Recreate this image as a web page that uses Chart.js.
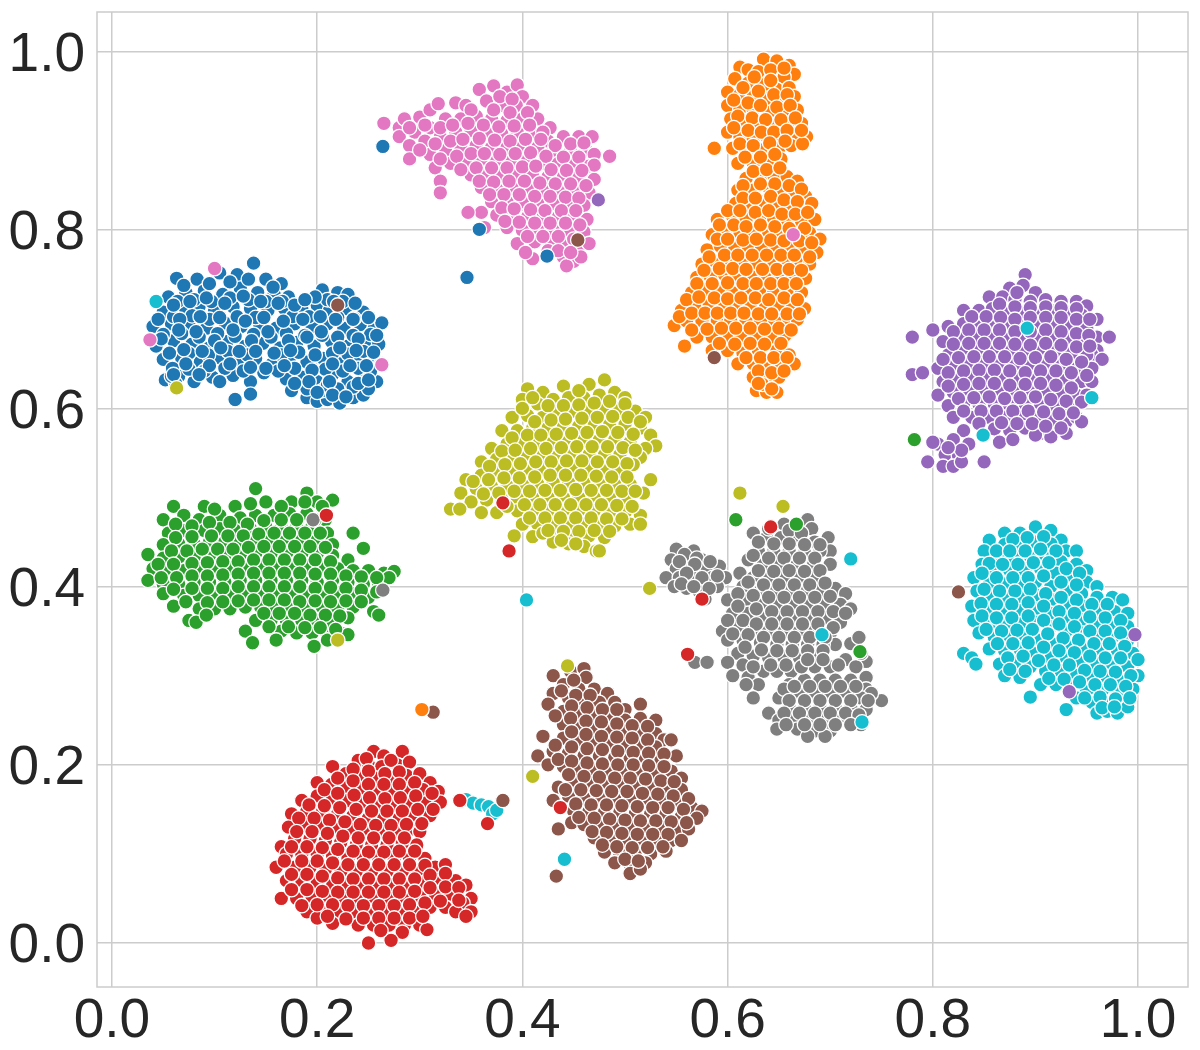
<!DOCTYPE html>
<html>
<head>
<meta charset="utf-8">
<script src="https://cdn.jsdelivr.net/npm/chart.js@4"></script>
<style>
body { margin: 0; background: #fff; }
</style>
</head>
<body>
<canvas id="myChart" width="1200" height="1050"></canvas>
<script>
const tickVals = [0, 0.2, 0.4, 0.6, 0.8, 1.0]

// points, one list per cluster
const blue = [[.063,.746],[.083,.745],[.105,.752],[.122,.75],[.138,.763],[.15,.745],[.165,.74],[.055,.725],[.072,.73],[.09,.732],[.108,.728],[.125,.735],[.142,.73],[.158,.728],[.172,.725],[.205,.733],[.22,.73],[.23,.728],[.05,.708],[.068,.712],[.085,.715],[.1,.71],[.118,.714],[.135,.712],[.152,.71],[.168,.712],[.185,.712],[.2,.716],[.212,.71],[.228,.712],[.245,.708],[.04,.692],[.058,.695],[.075,.694],[.092,.69],[.11,.696],[.126,.692],[.144,.694],[.16,.69],[.178,.695],[.195,.692],[.21,.695],[.226,.69],[.242,.694],[.256,.692],[.263,.696],[.043,.67],[.06,.676],[.078,.672],[.095,.668],[.112,.675],[.13,.67],[.147,.673],[.164,.668],[.18,.674],[.197,.67],[.214,.675],[.23,.67],[.247,.674],[.26,.672],[.05,.655],[.068,.656],[.086,.652],[.104,.657],[.122,.652],[.14,.656],[.156,.65],[.173,.656],[.19,.652],[.206,.656],[.222,.65],[.238,.654],[.254,.656],[.262,.65],[.052,.632],[.065,.636],[.08,.63],[.098,.635],[.118,.637],[.135,.63],[.148,.64],[.17,.633],[.185,.635],[.2,.63],[.215,.638],[.23,.63],[.245,.635],[.258,.63],[.12,.61],[.135,.616],[.175,.62],[.19,.612],[.2,.608],[.21,.61],[.222,.606],[.235,.612],[.245,.615],[.062,.628],[.058,.636],[.064,.72],[.08,.722],[.097,.72],[.115,.724],[.133,.722],[.15,.72],[.166,.72],[.21,.722],[.225,.72],[.06,.703],[.078,.704],[.095,.7],[.122,.703],[.14,.702],[.176,.703],[.192,.703],[.22,.702],[.236,.701],[.05,.683],[.068,.684],[.085,.68],[.103,.684],[.12,.681],[.138,.683],[.155,.68],[.17,.684],[.188,.682],[.205,.682],[.235,.682],[.252,.683],[.075,.662],[.094,.66],[.113,.664],[.132,.66],[.165,.66],[.182,.663],[.215,.662],[.23,.661],[.245,.664],[.075,.644],[.09,.642],[.11,.645],[.128,.642],[.162,.642],[.178,.645],[.208,.644],[.225,.642],[.24,.645],[.252,.642],[.19,.622],[.205,.62],[.22,.622],[.235,.624],[.25,.622],[.21,.626],[.07,.738],[.095,.74],[.115,.742],[.133,.745],[.157,.736],[.06,.716],[.076,.72],[.092,.724],[.11,.718],[.128,.726],[.145,.72],[.162,.718],[.178,.716],[.198,.725],[.216,.72],[.237,.718],[.045,.7],[.066,.7],[.086,.703],[.105,.702],[.13,.698],[.148,.702],[.167,.698],[.186,.7],[.203,.703],[.218,.7],[.235,.7],[.25,.702],[.048,.678],[.065,.688],[.082,.686],[.1,.676],[.118,.688],[.136,.676],[.152,.686],[.172,.676],[.19,.68],[.204,.686],[.22,.68],[.24,.678],[.258,.682],[.056,.662],[.07,.666],[.088,.664],[.106,.668],[.124,.664],[.14,.664],[.158,.662],[.174,.665],[.198,.66],[.222,.668],[.238,.665],[.255,.663],[.059,.645],[.072,.65],[.095,.648],[.115,.65],[.135,.646],[.15,.645],[.168,.648],[.195,.643],[.215,.65],[.232,.648],[.248,.648],[.06,.638],[.085,.638],[.105,.63],[.178,.628],[.192,.63],[.212,.63],[.24,.628],[.25,.632],[.2,.618],[.215,.615],[.228,.613],[.188,.722]]

const orange = [[.635,.992],[.648,.99],[.66,.985],[.665,.975],[.612,.983],[.62,.98],[.63,.978],[.655,.972],[.607,.97],[.62,.965],[.635,.963],[.648,.958],[.66,.96],[.6,.955],[.612,.952],[.625,.95],[.638,.948],[.652,.945],[.665,.95],[.6,.94],[.612,.936],[.625,.935],[.64,.932],[.655,.93],[.668,.935],[.603,.925],[.617,.92],[.63,.918],[.645,.917],[.66,.92],[.672,.92],[.6,.91],[.612,.905],[.625,.902],[.638,.905],[.652,.905],[.665,.908],[.677,.905],[.605,.892],[.618,.888],[.632,.89],[.65,.892],[.662,.895],[.673,.897],[.61,.875],[.625,.875],[.64,.875],[.652,.88],[.618,.858],[.632,.86],[.645,.862],[.658,.86],[.668,.855],[.61,.845],[.625,.845],[.64,.848],[.652,.843],[.665,.84],[.676,.838],[.608,.83],[.62,.828],[.633,.832],[.648,.828],[.66,.825],[.672,.825],[.682,.83],[.59,.812],[.605,.815],[.618,.812],[.632,.815],[.645,.812],[.658,.81],[.672,.81],[.685,.812],[.585,.795],[.598,.8],[.612,.797],[.625,.798],[.64,.797],[.653,.795],[.667,.795],[.68,.797],[.69,.79],[.58,.778],[.593,.782],[.607,.78],[.62,.782],[.633,.78],[.647,.78],[.66,.78],[.674,.78],[.687,.775],[.575,.762],[.588,.765],[.602,.765],[.615,.765],[.628,.763],[.642,.763],[.655,.765],[.668,.763],[.68,.762],[.57,.747],[.583,.748],[.597,.75],[.61,.748],[.623,.748],[.637,.748],[.65,.748],[.663,.748],[.676,.746],[.565,.73],[.578,.733],[.592,.733],[.605,.73],[.618,.732],[.632,.732],[.645,.73],[.658,.732],[.672,.73],[.555,.71],[.568,.716],[.582,.716],[.595,.715],[.608,.716],[.622,.716],[.637,.714],[.65,.716],[.663,.714],[.675,.712],[.548,.693],[.56,.698],[.575,.698],[.59,.698],[.603,.698],[.618,.698],[.632,.698],[.646,.698],[.66,.698],[.668,.7],[.558,.67],[.57,.68],[.585,.68],[.6,.68],[.613,.682],[.628,.68],[.642,.68],[.656,.682],[.585,.665],[.6,.665],[.615,.662],[.63,.665],[.648,.665],[.66,.66],[.61,.65],[.625,.65],[.638,.648],[.652,.65],[.665,.65],[.625,.635],[.637,.632],[.65,.635],[.628,.62],[.638,.618],[.648,.618],[.634,.627],[.643,.622],[.642,.98],[.655,.982],[.626,.972],[.642,.968],[.615,.96],[.63,.956],[.645,.952],[.658,.952],[.606,.946],[.62,.943],[.632,.94],[.648,.938],[.661,.94],[.61,.928],[.624,.926],[.637,.924],[.652,.924],[.666,.926],[.606,.915],[.62,.912],[.633,.91],[.645,.91],[.658,.912],[.672,.912],[.612,.897],[.625,.895],[.641,.898],[.656,.9],[.617,.882],[.632,.882],[.646,.885],[.625,.866],[.638,.868],[.651,.87],[.615,.85],[.632,.852],[.646,.852],[.66,.85],[.672,.846],[.615,.836],[.627,.836],[.642,.838],[.655,.834],[.668,.832],[.6,.822],[.612,.822],[.627,.82],[.64,.822],[.653,.818],[.666,.818],[.678,.82],[.592,.806],[.606,.806],[.618,.804],[.632,.806],[.646,.804],[.66,.802],[.675,.802],[.59,.79],[.6,.79],[.615,.789],[.628,.79],[.642,.789],[.655,.788],[.67,.788],[.682,.786],[.582,.77],[.597,.772],[.61,.772],[.624,.772],[.638,.772],[.652,.772],[.665,.772],[.68,.77],[.577,.755],[.592,.757],[.605,.757],[.618,.756],[.634,.756],[.648,.756],[.66,.756],[.672,.755],[.57,.74],[.585,.74],[.6,.741],[.615,.74],[.628,.74],[.642,.74],[.655,.74],[.667,.74],[.56,.722],[.572,.725],[.587,.724],[.6,.723],[.613,.724],[.627,.724],[.64,.722],[.655,.724],[.668,.722],[.553,.703],[.565,.707],[.578,.707],[.59,.707],[.603,.707],[.616,.707],[.63,.706],[.643,.706],[.658,.706],[.67,.706],[.565,.688],[.58,.689],[.594,.69],[.608,.69],[.622,.69],[.636,.689],[.65,.69],[.662,.688],[.592,.673],[.607,.672],[.622,.673],[.636,.672],[.652,.673],[.618,.657],[.632,.657],[.645,.657],[.658,.657],[.63,.642],[.643,.64],[.655,.642],[.63,.628]]

const pink = [[.265,.92],[.28,.915],[.285,.925],[.3,.927],[.31,.935],[.318,.942],[.335,.943],[.345,.94],[.358,.958],[.372,.962],[.385,.955],[.395,.963],[.4,.95],[.365,.945],[.38,.94],[.394,.94],[.41,.94],[.415,.925],[.28,.905],[.295,.91],[.31,.915],[.325,.925],[.34,.925],[.355,.928],[.37,.925],[.385,.923],[.4,.925],[.427,.915],[.29,.895],[.305,.9],[.32,.905],[.335,.91],[.35,.912],[.365,.91],[.38,.908],[.395,.91],[.41,.91],[.425,.9],[.44,.905],[.455,.905],[.468,.905],[.462,.89],[.29,.88],[.31,.885],[.325,.89],[.34,.893],[.355,.895],[.37,.893],[.385,.893],[.4,.895],[.415,.893],[.43,.888],[.447,.89],[.47,.885],[.485,.883],[.315,.87],[.33,.875],[.345,.878],[.36,.878],[.375,.878],[.39,.878],[.405,.88],[.42,.875],[.435,.875],[.45,.875],[.465,.872],[.32,.855],[.35,.862],[.365,.862],[.38,.863],[.395,.862],[.41,.865],[.425,.86],[.44,.86],[.455,.86],[.47,.857],[.32,.842],[.36,.848],[.375,.846],[.39,.848],[.405,.848],[.42,.845],[.435,.845],[.45,.845],[.465,.842],[.36,.82],[.37,.832],[.385,.832],[.4,.832],[.415,.83],[.43,.83],[.445,.83],[.46,.828],[.347,.82],[.375,.817],[.39,.817],[.405,.815],[.42,.815],[.435,.815],[.45,.815],[.463,.812],[.385,.803],[.4,.8],[.415,.8],[.43,.8],[.445,.8],[.46,.798],[.395,.785],[.412,.787],[.427,.785],[.44,.785],[.455,.78],[.465,.785],[.41,.768],[.44,.77],[.45,.765],[.443,.76],[.457,.77],[.403,.775],[.378,.95],[.39,.947],[.35,.935],[.372,.935],[.388,.932],[.405,.932],[.29,.915],[.305,.918],[.32,.915],[.332,.918],[.347,.92],[.362,.918],[.377,.916],[.392,.917],[.407,.918],[.42,.91],[.3,.89],[.315,.897],[.33,.9],[.342,.902],[.358,.903],[.373,.901],[.388,.9],[.403,.902],[.418,.902],[.432,.895],[.447,.897],[.46,.898],[.32,.88],[.336,.883],[.35,.886],[.363,.886],[.378,.885],[.393,.886],[.408,.887],[.423,.883],[.44,.882],[.455,.882],[.47,.873],[.34,.868],[.355,.87],[.37,.87],[.385,.87],[.4,.871],[.413,.872],[.428,.868],[.443,.867],[.458,.867],[.358,.855],[.372,.854],[.387,.855],[.402,.855],[.417,.853],[.432,.852],[.447,.852],[.462,.85],[.368,.84],[.382,.84],[.397,.84],[.412,.838],[.427,.838],[.442,.837],[.455,.836],[.38,.825],[.392,.824],[.408,.823],[.422,.822],[.438,.822],[.452,.822],[.383,.81],[.397,.809],[.412,.808],[.427,.808],[.442,.808],[.456,.806],[.405,.793],[.42,.793],[.435,.793],[.45,.79],[.425,.777],[.435,.777],[.447,.775]]

const purple = [[.89,.75],[.875,.735],[.888,.738],[.9,.73],[.855,.725],[.868,.725],[.88,.722],[.895,.72],[.91,.722],[.925,.72],[.94,.72],[.95,.715],[.83,.71],[.845,.71],[.858,.712],[.87,.708],[.885,.708],[.9,.708],[.915,.71],[.93,.708],[.945,.705],[.96,.7],[.78,.68],[.8,.688],[.815,.692],[.83,.695],[.845,.695],[.86,.695],[.875,.695],[.89,.693],[.905,.695],[.92,.695],[.935,.693],[.95,.69],[.96,.68],[.81,.675],[.825,.68],[.84,.68],[.855,.68],[.87,.68],[.885,.678],[.9,.68],[.915,.68],[.93,.678],[.945,.675],[.96,.665],[.955,.66],[.972,.68],[.815,.66],[.83,.665],[.845,.665],[.86,.665],[.875,.665],[.89,.663],[.905,.665],[.92,.665],[.935,.662],[.95,.66],[.965,.655],[.78,.638],[.79,.64],[.805,.645],[.82,.648],[.835,.65],[.85,.65],[.865,.65],[.88,.65],[.895,.648],[.91,.65],[.925,.648],[.94,.645],[.955,.645],[.81,.63],[.825,.633],[.84,.635],[.855,.635],[.87,.635],[.885,.633],[.9,.635],[.915,.635],[.93,.632],[.945,.63],[.955,.63],[.805,.615],[.82,.618],[.835,.62],[.85,.62],[.865,.62],[.88,.618],[.895,.62],[.91,.62],[.925,.617],[.94,.615],[.95,.615],[.815,.603],[.83,.605],[.845,.605],[.86,.605],[.875,.603],[.89,.605],[.905,.605],[.92,.602],[.935,.6],[.82,.59],[.838,.59],[.855,.59],[.87,.59],[.885,.59],[.9,.59],[.915,.587],[.93,.585],[.94,.59],[.83,.575],[.86,.577],[.875,.575],[.89,.578],[.905,.572],[.915,.568],[.93,.572],[.945,.585],[.805,.56],[.82,.565],[.835,.56],[.865,.562],[.878,.565],[.9,.57],[.795,.54],[.812,.548],[.825,.547],[.8,.562],[.81,.535],[.82,.535],[.828,.54],[.85,.54],[.882,.73],[.865,.717],[.88,.714],[.895,.713],[.91,.714],[.925,.713],[.94,.712],[.838,.703],[.852,.703],[.866,.702],[.88,.7],[.895,.702],[.91,.702],[.925,.702],[.94,.7],[.953,.7],[.82,.686],[.835,.688],[.85,.688],[.865,.688],[.88,.686],[.895,.686],[.91,.688],[.925,.686],[.94,.684],[.952,.682],[.82,.672],[.835,.673],[.85,.673],[.865,.673],[.88,.672],[.895,.671],[.91,.673],[.925,.671],[.94,.669],[.953,.67],[.81,.655],[.825,.657],[.84,.658],[.855,.658],[.87,.658],[.885,.656],[.9,.657],[.915,.658],[.93,.655],[.945,.652],[.815,.64],[.83,.642],[.845,.643],[.86,.643],[.875,.642],[.89,.64],[.905,.642],[.92,.642],[.935,.64],[.95,.637],[.815,.625],[.83,.627],[.845,.628],[.86,.628],[.875,.626],[.89,.627],[.905,.628],[.92,.626],[.935,.623],[.825,.611],[.84,.612],[.855,.613],[.87,.611],[.885,.612],[.9,.613],[.915,.61],[.93,.608],[.945,.607],[.83,.597],[.847,.597],[.862,.597],[.878,.597],[.893,.597],[.908,.596],[.923,.594],[.937,.595],[.845,.583],[.867,.584],[.882,.583],[.897,.583],[.91,.58],[.925,.578],[.828,.553],[.815,.556]]

const olive = [[.48,.632],[.465,.627],[.44,.625],[.405,.622],[.42,.618],[.4,.61],[.415,.605],[.43,.61],[.445,.612],[.46,.612],[.475,.615],[.49,.618],[.5,.612],[.39,.59],[.405,.592],[.42,.59],[.435,.595],[.45,.597],[.465,.597],[.48,.6],[.495,.6],[.51,.597],[.52,.59],[.38,.575],[.395,.575],[.41,.578],[.425,.578],[.44,.58],[.455,.58],[.47,.582],[.485,.582],[.5,.582],[.515,.578],[.525,.57],[.53,.558],[.37,.555],[.385,.56],[.4,.56],[.415,.562],[.43,.562],[.445,.563],[.46,.565],[.475,.565],[.49,.565],[.505,.562],[.52,.555],[.515,.545],[.36,.54],[.375,.543],[.39,.545],[.405,.547],[.42,.547],[.435,.547],[.45,.55],[.465,.548],[.48,.548],[.495,.548],[.508,.537],[.525,.52],[.345,.52],[.36,.525],[.375,.528],[.39,.53],[.405,.53],[.42,.532],[.435,.532],[.45,.533],[.465,.532],[.48,.532],[.495,.53],[.34,.505],[.355,.51],[.37,.512],[.385,.513],[.4,.515],[.415,.515],[.43,.517],[.445,.517],[.46,.517],[.475,.515],[.49,.515],[.505,.515],[.518,.505],[.35,.495],[.365,.497],[.38,.498],[.395,.5],[.41,.5],[.425,.5],[.44,.5],[.455,.5],[.47,.5],[.485,.5],[.5,.5],[.375,.483],[.395,.485],[.41,.484],[.425,.485],[.44,.485],[.455,.485],[.47,.485],[.485,.483],[.5,.483],[.515,.48],[.36,.483],[.4,.47],[.415,.47],[.43,.47],[.445,.47],[.46,.47],[.475,.47],[.49,.468],[.505,.47],[.515,.47],[.41,.456],[.42,.46],[.435,.455],[.45,.455],[.465,.457],[.48,.455],[.392,.457],[.43,.45],[.445,.448],[.46,.445],[.472,.44],[.475,.44],[.455,.62],[.41,.612],[.425,.603],[.44,.603],[.455,.604],[.47,.606],[.485,.608],[.5,.605],[.4,.6],[.412,.585],[.428,.587],[.442,.588],[.458,.589],[.473,.59],[.488,.591],[.503,.59],[.515,.585],[.39,.567],[.405,.57],[.418,.57],[.433,.571],[.448,.572],[.463,.573],[.478,.574],[.493,.573],[.508,.571],[.38,.552],[.393,.553],[.408,.555],[.423,.555],[.438,.556],[.453,.557],[.468,.557],[.483,.557],[.498,.556],[.51,.553],[.368,.535],[.383,.537],[.398,.538],[.413,.54],[.428,.54],[.443,.541],[.458,.541],[.473,.54],[.488,.54],[.502,.538],[.352,.518],[.367,.52],[.382,.522],[.397,.522],[.412,.523],[.427,.525],[.442,.525],[.457,.525],[.472,.524],[.487,.523],[.502,.523],[.362,.504],[.377,.505],[.392,.507],[.407,.507],[.422,.508],[.437,.508],[.452,.509],[.467,.508],[.482,.508],[.497,.507],[.51,.507],[.385,.49],[.402,.492],[.417,.492],[.432,.492],[.447,.492],[.462,.492],[.477,.492],[.492,.491],[.507,.49],[.407,.477],[.422,.477],[.437,.477],[.452,.477],[.467,.477],[.482,.476],[.497,.476],[.425,.463],[.44,.462],[.455,.462],[.47,.463],[.485,.462],[.438,.452],[.452,.448]]

const green = [[.14,.51],[.19,.505],[.2,.495],[.215,.497],[.06,.49],[.09,.49],[.12,.49],[.15,.495],[.175,.495],[.205,.49],[.05,.475],[.07,.48],[.085,.475],[.105,.48],[.125,.477],[.14,.48],[.158,.48],[.173,.482],[.19,.482],[.208,.475],[.055,.46],[.07,.463],[.09,.463],[.105,.465],[.12,.463],[.135,.465],[.15,.467],[.165,.467],[.18,.468],[.195,.468],[.21,.46],[.235,.46],[.05,.447],[.065,.448],[.08,.448],[.095,.45],[.11,.45],[.125,.45],[.14,.452],[.155,.452],[.17,.452],[.185,.452],[.2,.452],[.215,.447],[.245,.443],[.035,.436],[.05,.432],[.065,.433],[.08,.433],[.095,.435],[.11,.435],[.125,.435],[.14,.437],[.155,.437],[.17,.437],[.185,.437],[.2,.437],[.215,.435],[.23,.43],[.04,.42],[.055,.417],[.07,.418],[.085,.42],[.1,.42],[.115,.42],[.13,.422],[.145,.422],[.16,.422],[.175,.422],[.19,.422],[.205,.422],[.22,.42],[.235,.418],[.25,.418],[.265,.415],[.275,.417],[.035,.407],[.05,.403],[.065,.403],[.08,.405],[.095,.405],[.11,.405],[.125,.407],[.14,.407],[.155,.407],[.17,.407],[.185,.407],[.2,.405],[.215,.407],[.23,.405],[.245,.403],[.26,.402],[.27,.41],[.05,.392],[.07,.39],[.085,.39],[.1,.39],[.115,.39],[.13,.392],[.145,.392],[.16,.392],[.175,.392],[.19,.39],[.205,.392],[.22,.39],[.235,.392],[.25,.388],[.06,.378],[.085,.375],[.1,.375],[.115,.375],[.13,.377],[.145,.377],[.16,.377],[.175,.377],[.19,.375],[.205,.377],[.22,.375],[.235,.377],[.255,.372],[.26,.368],[.075,.362],[.082,.36],[.14,.362],[.155,.362],[.17,.362],[.185,.362],[.2,.362],[.215,.36],[.23,.365],[.13,.35],[.165,.35],[.18,.348],[.195,.348],[.21,.345],[.225,.347],[.23,.346],[.137,.337],[.16,.34],[.197,.333],[.21,.34],[.1,.487],[.135,.493],[.165,.49],[.188,.495],[.062,.47],[.078,.468],[.095,.472],[.115,.472],[.132,.47],[.148,.474],[.165,.475],[.18,.475],[.198,.475],[.062,.455],[.078,.456],[.097,.457],[.113,.457],[.128,.457],[.143,.459],[.158,.46],[.173,.46],[.188,.46],[.203,.46],[.058,.44],[.073,.44],[.088,.442],[.103,.442],[.118,.442],[.133,.444],[.148,.445],[.163,.445],[.178,.445],[.193,.445],[.208,.444],[.045,.425],[.06,.425],[.078,.426],[.093,.427],[.108,.428],[.123,.428],[.138,.43],[.153,.43],[.168,.43],[.183,.43],[.198,.43],[.213,.428],[.048,.41],[.063,.41],[.078,.412],[.093,.412],[.108,.413],[.123,.414],[.138,.415],[.153,.415],[.168,.415],[.183,.415],[.198,.414],[.213,.414],[.228,.412],[.243,.411],[.258,.41],[.06,.397],[.078,.398],[.093,.398],[.108,.398],[.123,.4],[.138,.4],[.153,.4],[.168,.4],[.183,.4],[.198,.398],[.213,.399],[.228,.398],[.243,.396],[.258,.394],[.072,.383],[.093,.382],[.108,.383],[.123,.384],[.138,.385],[.153,.385],[.168,.385],[.183,.383],[.198,.384],[.213,.383],[.228,.384],[.243,.383],[.092,.368],[.148,.37],[.163,.37],[.178,.37],[.193,.368],[.208,.368],[.222,.367],[.153,.355],[.172,.355],[.188,.354],[.203,.354],[.218,.352]]

const grey = [[.55,.442],[.567,.44],[.575,.43],[.545,.43],[.56,.43],[.55,.42],[.565,.42],[.58,.42],[.592,.423],[.54,.41],[.553,.41],[.568,.41],[.585,.41],[.598,.41],[.56,.398],[.572,.395],[.59,.4],[.548,.4],[.578,.386],[.655,.47],[.678,.475],[.682,.465],[.625,.46],[.638,.455],[.652,.455],[.668,.453],[.685,.45],[.698,.455],[.7,.44],[.63,.44],[.645,.44],[.66,.44],[.675,.438],[.69,.44],[.7,.425],[.62,.43],[.635,.425],[.652,.425],[.668,.425],[.684,.425],[.612,.415],[.625,.41],[.64,.41],[.655,.41],[.67,.41],[.685,.41],[.615,.4],[.632,.395],[.647,.395],[.662,.395],[.677,.395],[.692,.397],[.705,.398],[.715,.392],[.6,.385],[.618,.385],[.635,.38],[.65,.38],[.665,.38],[.68,.38],[.695,.38],[.71,.38],[.72,.375],[.605,.37],[.62,.37],[.635,.365],[.65,.365],[.665,.365],[.68,.365],[.695,.365],[.71,.36],[.595,.35],[.61,.355],[.625,.352],[.64,.35],[.655,.35],[.67,.35],[.685,.35],[.7,.347],[.705,.335],[.6,.34],[.615,.34],[.632,.337],[.648,.335],[.663,.335],[.678,.335],[.693,.335],[.61,.325],[.625,.322],[.64,.32],[.655,.32],[.67,.32],[.685,.32],[.72,.336],[.728,.343],[.735,.316],[.568,.315],[.58,.315],[.6,.315],[.615,.312],[.635,.305],[.648,.305],[.662,.305],[.685,.31],[.7,.31],[.715,.318],[.725,.31],[.73,.325],[.605,.3],[.62,.298],[.63,.29],[.66,.29],[.675,.295],[.69,.295],[.705,.295],[.72,.295],[.735,.298],[.735,.285],[.75,.272],[.74,.28],[.65,.275],[.67,.28],[.685,.28],[.7,.28],[.715,.28],[.73,.275],[.64,.258],[.66,.265],[.675,.265],[.69,.265],[.705,.265],[.72,.265],[.735,.262],[.65,.25],[.665,.25],[.68,.25],[.695,.25],[.71,.252],[.722,.25],[.73,.245],[.648,.24],[.668,.24],[.685,.238],[.7,.238],[.678,.232],[.695,.232],[.618,.29],[.625,.275],[.558,.436],[.57,.432],[.553,.428],[.568,.425],[.583,.428],[.56,.415],[.575,.41],[.59,.412],[.555,.403],[.567,.4],[.582,.398],[.64,.465],[.66,.463],[.672,.46],[.63,.45],[.645,.448],[.66,.448],[.675,.447],[.69,.447],[.625,.435],[.64,.432],[.655,.432],[.67,.432],[.685,.432],[.63,.418],[.645,.417],[.66,.418],[.675,.417],[.69,.418],[.62,.405],[.635,.402],[.65,.402],[.665,.402],[.68,.402],[.695,.404],[.61,.392],[.625,.39],[.64,.388],[.655,.388],[.67,.388],[.685,.388],[.7,.389],[.61,.378],[.628,.375],[.643,.372],[.658,.372],[.673,.372],[.688,.372],[.703,.372],[.715,.37],[.6,.362],[.615,.362],[.628,.358],[.643,.358],[.658,.358],[.673,.358],[.688,.358],[.703,.354],[.605,.347],[.62,.346],[.635,.343],[.65,.343],[.665,.343],[.68,.343],[.695,.343],[.617,.332],[.633,.329],[.648,.328],[.663,.328],[.678,.328],[.693,.328],[.625,.31],[.642,.312],[.657,.312],[.672,.31],[.678,.318],[.693,.318],[.708,.312],[.655,.285],[.665,.288],[.68,.288],[.695,.288],[.71,.288],[.725,.288],[.66,.272],[.675,.272],[.69,.272],[.705,.272],[.72,.272],[.737,.272],[.655,.258],[.67,.258],[.685,.258],[.7,.258],[.715,.258],[.728,.256],[.657,.245],[.675,.245],[.69,.245],[.705,.245],[.72,.245]]

const cyan = [[.87,.46],[.885,.46],[.9,.467],[.915,.463],[.925,.452],[.855,.452],[.87,.447],[.885,.447],[.9,.45],[.915,.448],[.93,.44],[.94,.44],[.85,.44],[.865,.433],[.88,.432],[.895,.434],[.91,.435],[.925,.428],[.94,.425],[.95,.418],[.848,.425],[.86,.418],[.875,.418],[.89,.418],[.905,.42],[.92,.415],[.935,.41],[.95,.405],[.96,.4],[.84,.41],[.855,.403],[.87,.403],[.885,.403],[.9,.405],[.915,.4],[.93,.395],[.945,.392],[.96,.388],[.975,.388],[.985,.385],[.843,.395],[.857,.388],[.872,.388],[.887,.388],[.902,.39],[.917,.385],[.932,.38],[.947,.378],[.962,.372],[.977,.372],[.99,.37],[.838,.378],[.855,.373],[.87,.373],[.885,.373],[.9,.375],[.915,.37],[.93,.365],[.945,.363],[.96,.358],[.975,.358],[.99,.355],[.84,.362],[.855,.358],[.87,.358],[.885,.358],[.9,.36],[.915,.355],[.93,.35],[.945,.348],[.96,.343],[.975,.343],[.99,.34],[.845,.348],[.86,.343],[.875,.343],[.89,.345],[.905,.34],[.92,.335],[.935,.333],[.95,.33],[.965,.328],[.98,.328],[.995,.325],[.83,.325],[.838,.32],[.855,.33],[.87,.328],[.885,.33],[.9,.325],[.915,.32],[.93,.32],[.945,.315],[.96,.313],[.975,.313],[.99,.31],[1,.318],[.842,.313],[.865,.313],[.88,.315],[.895,.31],[.91,.305],[.925,.305],[.94,.3],[.955,.298],[.97,.298],[.985,.295],[1,.3],[.87,.3],[.885,.298],[.905,.29],[.92,.29],[.935,.288],[.95,.283],[.965,.283],[.98,.28],[.995,.285],[.895,.276],[.94,.275],[.955,.27],[.97,.27],[.985,.268],[.93,.262],[.96,.258],[.97,.26],[.98,.258],[.99,.265],[.878,.453],[.892,.455],[.908,.456],[.862,.44],[.875,.44],[.89,.44],[.905,.442],[.92,.44],[.855,.426],[.868,.425],[.883,.425],[.898,.427],[.913,.427],[.93,.42],[.943,.415],[.848,.415],[.862,.41],[.878,.41],[.893,.41],[.908,.412],[.925,.405],[.94,.402],[.85,.397],[.865,.395],[.88,.395],[.895,.397],[.91,.392],[.925,.388],[.94,.385],[.955,.38],[.97,.38],[.847,.381],[.862,.38],[.877,.38],[.893,.382],[.908,.378],[.923,.372],[.938,.37],[.953,.366],[.968,.365],[.983,.362],[.848,.367],[.862,.365],[.877,.365],[.893,.367],[.908,.362],[.923,.358],[.938,.355],[.953,.35],[.968,.35],[.983,.348],[.852,.352],[.867,.35],[.882,.351],[.897,.352],[.912,.347],[.927,.342],[.942,.34],[.957,.336],[.972,.336],[.987,.333],[.863,.336],[.878,.336],[.893,.337],[.908,.332],[.923,.328],[.938,.326],[.953,.322],[.968,.32],[.983,.32],[.873,.32],[.888,.322],[.903,.317],[.918,.312],[.933,.312],[.948,.306],[.963,.305],[.978,.304],[.993,.3],[.875,.307],[.89,.305],[.913,.297],[.928,.296],[.943,.293],[.958,.29],[.973,.29],[.988,.288],[.948,.275],[.963,.276],[.978,.274],[.992,.275],[.965,.264],[.977,.265]]

const brown = [[.447,.305],[.46,.308],[.462,.298],[.43,.3],[.44,.29],[.455,.285],[.47,.285],[.483,.28],[.43,.28],[.445,.275],[.46,.272],[.475,.27],[.49,.27],[.5,.262],[.515,.268],[.425,.268],[.44,.26],[.455,.258],[.47,.255],[.485,.255],[.5,.25],[.515,.252],[.53,.25],[.44,.245],[.455,.243],[.47,.24],[.485,.24],[.5,.238],[.515,.237],[.53,.235],[.538,.228],[.42,.232],[.44,.23],[.455,.228],[.47,.225],[.485,.225],[.5,.222],[.515,.222],[.53,.22],[.545,.228],[.415,.21],[.43,.215],[.445,.213],[.46,.21],[.475,.21],[.49,.208],[.505,.207],[.52,.207],[.535,.205],[.55,.21],[.425,.2],[.44,.198],[.455,.195],[.47,.195],[.485,.193],[.5,.193],[.515,.192],[.53,.19],[.545,.193],[.555,.185],[.435,.175],[.45,.18],[.465,.18],[.48,.178],[.495,.178],[.51,.177],[.525,.175],[.54,.175],[.555,.172],[.43,.16],[.445,.165],[.46,.163],[.475,.163],[.49,.162],[.505,.162],[.52,.16],[.535,.16],[.55,.158],[.565,.152],[.575,.148],[.45,.148],[.465,.148],[.48,.147],[.495,.147],[.51,.145],[.525,.145],[.54,.145],[.555,.142],[.57,.14],[.448,.135],[.46,.133],[.475,.132],[.49,.132],[.505,.13],[.52,.13],[.535,.13],[.55,.128],[.562,.128],[.47,.118],[.485,.117],[.5,.115],[.515,.115],[.53,.115],[.545,.115],[.555,.115],[.48,.102],[.495,.1],[.51,.1],[.525,.1],[.54,.103],[.49,.09],[.505,.088],[.52,.09],[.505,.078],[.515,.083],[.45,.295],[.438,.283],[.452,.278],[.466,.278],[.448,.266],[.463,.264],[.478,.262],[.492,.262],[.432,.255],[.447,.252],[.462,.249],[.477,.248],[.492,.246],[.507,.244],[.522,.243],[.448,.237],[.462,.234],[.477,.232],[.492,.231],[.507,.23],[.522,.228],[.432,.222],[.448,.22],[.463,.218],[.478,.217],[.493,.215],[.508,.214],[.523,.213],[.538,.212],[.435,.206],[.448,.204],[.463,.202],[.478,.201],[.493,.2],[.508,.2],[.523,.199],[.538,.198],[.445,.189],[.46,.187],[.475,.186],[.49,.185],[.505,.185],[.52,.184],[.535,.182],[.548,.181],[.442,.172],[.457,.172],[.472,.171],[.487,.17],[.502,.17],[.517,.168],[.532,.167],[.547,.165],[.562,.162],[.452,.156],[.467,.155],[.482,.155],[.497,.154],[.512,.153],[.527,.152],[.542,.152],[.557,.15],[.455,.141],[.47,.14],[.485,.139],[.5,.138],[.515,.137],[.53,.137],[.545,.136],[.56,.135],[.468,.125],[.482,.124],[.497,.123],[.512,.122],[.527,.122],[.542,.122],[.478,.11],[.492,.108],[.507,.107],[.522,.107],[.537,.108],[.5,.094],[.513,.092]]

const red = [[.255,.215],[.265,.21],[.283,.215],[.24,.205],[.25,.2],[.263,.198],[.278,.2],[.29,.203],[.215,.198],[.228,.19],[.242,.188],[.257,.185],[.272,.185],[.287,.188],[.3,.19],[.31,.18],[.2,.18],[.214,.178],[.228,.175],[.243,.173],[.258,.17],[.273,.17],[.288,.173],[.303,.172],[.318,.17],[.31,.16],[.185,.16],[.2,.165],[.215,.162],[.23,.16],[.245,.158],[.26,.155],[.275,.155],[.29,.158],[.305,.157],[.32,.158],[.175,.145],[.19,.148],[.205,.147],[.22,.145],[.235,.143],[.25,.14],[.265,.14],[.28,.14],[.295,.143],[.31,.143],[.172,.13],[.187,.133],[.202,.132],[.217,.13],[.232,.128],[.247,.125],[.262,.125],[.277,.125],[.292,.128],[.3,.125],[.165,.108],[.178,.117],[.193,.117],[.208,.115],[.223,.113],[.238,.11],[.253,.11],[.268,.11],[.283,.112],[.297,.11],[.17,.1],[.185,.1],[.2,.1],[.215,.098],[.23,.095],[.245,.095],[.26,.095],[.275,.095],[.29,.095],[.305,.095],[.16,.085],[.178,.085],[.193,.085],[.208,.083],[.223,.08],[.238,.08],[.253,.08],[.268,.08],[.283,.08],[.298,.08],[.315,.085],[.325,.088],[.17,.07],[.185,.07],[.2,.068],[.215,.065],[.23,.065],[.245,.065],[.26,.065],[.275,.065],[.29,.065],[.305,.068],[.32,.072],[.335,.07],[.345,.065],[.165,.05],[.18,.05],[.195,.052],[.21,.05],[.225,.05],[.24,.05],[.255,.05],[.27,.05],[.285,.05],[.3,.052],[.315,.055],[.33,.055],[.35,.05],[.342,.045],[.19,.035],[.205,.035],[.22,.035],[.235,.035],[.25,.035],[.265,.035],[.28,.035],[.295,.035],[.31,.04],[.325,.04],[.335,.035],[.35,.035],[.2,.028],[.215,.022],[.24,.02],[.255,.02],[.27,.02],[.285,.02],[.3,.02],[.307,.015],[.283,.012],[.25,.0],[.272,.003],[.345,.03],[.248,.207],[.272,.205],[.235,.195],[.25,.193],[.266,.19],[.28,.192],[.22,.185],[.235,.182],[.25,.178],[.265,.178],[.28,.178],[.295,.18],[.207,.172],[.22,.168],[.236,.166],[.251,.163],[.266,.162],[.281,.163],[.296,.165],[.312,.168],[.192,.155],[.207,.154],[.222,.152],[.238,.15],[.253,.148],[.268,.148],[.283,.148],[.298,.15],[.313,.15],[.182,.14],[.197,.14],[.212,.138],[.227,.136],[.242,.133],[.257,.132],[.272,.132],[.287,.133],[.302,.134],[.18,.125],[.195,.125],[.21,.123],[.225,.12],[.24,.118],[.255,.118],[.27,.118],[.285,.118],[.175,.108],[.19,.108],[.205,.107],[.22,.105],[.235,.103],[.25,.102],[.265,.102],[.28,.103],[.295,.103],[.168,.092],[.185,.092],[.2,.092],[.215,.09],[.23,.088],[.245,.088],[.26,.088],[.275,.088],[.29,.088],[.305,.087],[.175,.077],[.19,.077],[.205,.075],[.22,.073],[.235,.072],[.25,.072],[.265,.072],[.28,.072],[.295,.072],[.31,.076],[.325,.078],[.175,.06],[.19,.06],[.205,.058],[.22,.057],[.235,.057],[.25,.057],[.265,.057],[.28,.057],[.295,.058],[.31,.062],[.325,.063],[.338,.062],[.185,.042],[.2,.043],[.215,.043],[.23,.042],[.245,.042],[.26,.042],[.275,.042],[.29,.043],[.305,.045],[.32,.047],[.338,.048],[.21,.03],[.228,.027],[.245,.028],[.26,.028],[.275,.028],[.29,.028],[.303,.03],[.262,.014]]

// stray points of each class sitting away from their cluster
const blueStray = [[.264,.894],[.358,.801],[.346,.747],[.424,.771]]
const orangeStray = [[.302,.262],[.587,.892]]
const greenStray = [[.782,.565],[.608,.475],[.667,.47],[.729,.327]]
const redStray = [[.209,.48],[.387,.44],[.381,.494],[.575,.386],[.561,.324],[.642,.467],[.339,.16],[.366,.134],[.437,.152]]
const purpleStray = [[.474,.834],[.933,.282],[.997,.346]]
const brownStray = [[.454,.789],[.22,.716],[.587,.657],[.313,.259],[.381,.16],[.433,.075],[.435,.128],[.825,.394]]
const pinkStray = [[.1,.757],[.263,.649],[.664,.795],[.363,.803],[.037,.677]]
const greyStray = [[.196,.475],[.264,.396]]
const oliveStray = [[.063,.623],[.33,.487],[.339,.487],[.612,.505],[.654,.49],[.41,.187],[.444,.311],[.524,.398],[.22,.34]]
const cyanStray = [[.043,.72],[.892,.69],[.849,.57],[.404,.385],[.72,.431],[.441,.094],[.345,.161],[.352,.157],[.36,.155],[.367,.153],[.371,.145],[.375,.149],[.731,.248],[.692,.346],[.955,.612]]

const clusters = [blue, orange, green, red, purple, brown, pink, grey, olive, cyan]
const strays = [blueStray, orangeStray, greenStray, redStray, purpleStray, brownStray, pinkStray, greyStray, oliveStray, cyanStray]
const colors = ['#1f77b4', '#ff7f0e', '#2ca02c', '#d62728', '#9467bd', '#8c564b', '#e377c2', '#7f7f7f', '#bcbd22', '#17becf']

function makeSet(points, i) {
    return {
        data: points.map(p => ({ x: p[0], y: p[1] })),
        backgroundColor: colors[i],
        borderColor: '#ffffff',
        borderWidth: 1.3,
        pointRadius: 7.3,
        pointHoverRadius: 7.3
    }
}

// the first dataset is painted last, so strays go before the clusters
const datasets = strays.map(makeSet).concat(clusters.map(makeSet))

const frame = {
    id: 'frame',
    beforeDatasetsDraw(chart) {
        const a = chart.chartArea
        const c = chart.ctx
        c.save()
        c.strokeStyle = '#cccccc'
        c.lineWidth = 1.5
        c.strokeRect(a.left, a.top, a.right - a.left, a.bottom - a.top)
        c.restore()
    }
}

function setTicks(scale) {
    scale.ticks = tickVals.map(v => ({ value: v }))
}

const tickStyle = {
    color: '#262626',
    font: { family: 'Liberation Sans', size: 55 },
    autoSkip: false,
    maxRotation: 0,
    callback: v => Number(v).toFixed(1)
}

const ctx = document.getElementById('myChart').getContext('2d')
new Chart(ctx, {
    type: 'scatter',
    data: { datasets: datasets },
    plugins: [frame],
    options: {
        responsive: false,
        animation: false,
        layout: { padding: { top: 12, right: 12, left: 0, bottom: 0 } },
        plugins: { legend: { display: false }, tooltip: { enabled: false } },
        scales: {
            x: {
                type: 'linear',
                min: -0.0146,
                max: 1.0487,
                afterBuildTicks: setTicks,
                afterFit(scale) {
                    scale.height = 63
                    scale.paddingLeft = 0
                    scale.paddingRight = 0
                },
                ticks: { ...tickStyle, padding: 2 },
                grid: { color: '#cccccc', lineWidth: 1.5, drawTicks: false },
                border: { display: false }
            },
            y: {
                type: 'linear',
                min: -0.0494,
                max: 1.0449,
                afterBuildTicks: setTicks,
                afterFit(scale) {
                    scale.width = 97
                    scale.paddingTop = 0
                    scale.paddingBottom = 0
                },
                ticks: { ...tickStyle, padding: 12, labelOffset: 4 },
                grid: { color: '#cccccc', lineWidth: 1.5, drawTicks: false },
                border: { display: false }
            }
        }
    }
})
</script>
</body>
</html>
